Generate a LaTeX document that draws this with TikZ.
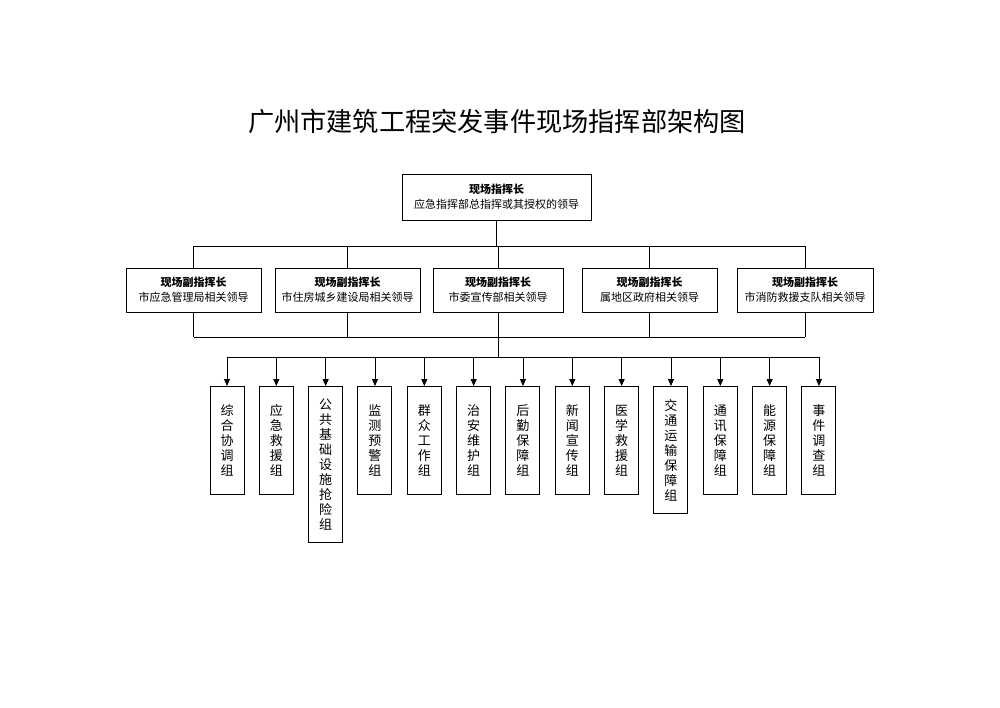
\documentclass[tikz,border=0pt]{standalone}
\usepackage{fontspec}
\setmainfont{Noto Sans CJK SC}
\usetikzlibrary{arrows.meta}

\begin{document}
\begin{tikzpicture}[x=1pt,y=-1pt,
    box/.style={draw, line width=1pt, inner sep=0pt, align=center, font=\fontsize{11}{15}\selectfont},
    group/.style={draw, line width=1pt, anchor=north, minimum width=34pt, minimum height=108pt,
        inner xsep=0pt, inner ysep=12.5pt, align=center, font=\fontsize{13}{15}\selectfont},
    link/.style={line width=0.9pt},
    arrow/.style={line width=0.9pt, -{Triangle[width=6pt,length=7pt]}}]

\useasboundingbox (0,0) rectangle (1000,707);

% title
\node (title) [font=\fontsize{26.2}{30}\selectfont] at (497,122) {广州市建筑工程突发事件现场指挥部架构图};

% commander
\node (chief) [box, minimum width=189pt, minimum height=46pt] at (496.5,197)
    {\textbf{现场指挥长}\\应急指挥部总指挥或其授权的领导};

% deputy commanders
\foreach \x/\w/\dept [count=\i] in {193.5/135/市应急管理局相关领导,
        347.5/145/市住房城乡建设局相关领导, 498/130/市委宣传部相关领导,
        649.5/135/属地区政府相关领导, 805/136/市消防救援支队相关领导}
    \node (dep\i) [box, minimum width=\w pt, minimum height=44pt] at (\x,290)
        {\textbf{现场副指挥长}\\\dept};

% working groups
\foreach \name [count=\i] in {综\\合\\协\\调\\组, 应\\急\\救\\援\\组,
        公\\共\\基\\础\\设\\施\\抢\\险\\组, 监\\测\\预\\警\\组, 群\\众\\工\\作\\组,
        治\\安\\维\\护\\组, 后\\勤\\保\\障\\组, 新\\闻\\宣\\传\\组, 医\\学\\救\\援\\组,
        交\\通\\运\\输\\保\\障\\组, 通\\讯\\保\\障\\组, 能\\源\\保\\障\\组,
        事\\件\\调\\查\\组}
    \node (grp\i) [group] at ({227+49.33*(\i-1)},386) {\name};

% commander to deputies
\coordinate (bus1) at (0,246);
\draw[link] (chief.south) -- (chief.south |- bus1);
\draw[link] (dep1.north |- bus1) -- (dep5.north |- bus1);
\foreach \i in {1,...,5}
    \draw[link] (dep\i.north |- bus1) -- (dep\i.north);

% deputies to groups
\coordinate (bus2) at (0,337);
\coordinate (bus3) at (0,357);
\foreach \i in {1,...,5}
    \draw[link] (dep\i.south) -- (dep\i.south |- bus2);
\draw[link] (dep1.south |- bus2) -- (dep5.south |- bus2);
\draw[link] (dep3.south |- bus2) -- (dep3.south |- bus3);
\draw[link] (grp1.north |- bus3) -- (grp13.north |- bus3);
\foreach \i in {1,...,13}
    \draw[arrow] (grp\i.north |- bus3) -- (grp\i.north);

\end{tikzpicture}
\end{document}
